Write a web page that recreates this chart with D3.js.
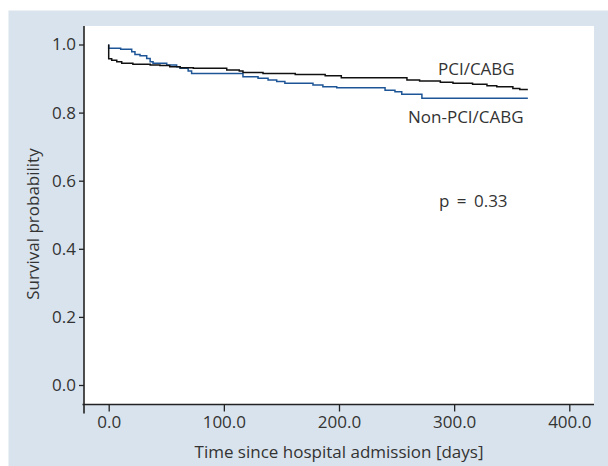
<!DOCTYPE html>
<html>
<head>
<meta charset="utf-8">
<script src="https://cdn.jsdelivr.net/npm/d3@7"></script>
<style>
  body { margin: 0; background: #fff; }
  svg text { font-family: "Open Sans", sans-serif; fill: #333; }
</style>
</head>
<body>
<div id="chart"></div>
<script>
// step points (days, survival)
var pciTime = [0, 0, 2.6, 7, 11.3, 21, 36, 44.5, 53, 62, 73.5, 102.5, 113.4, 116.6, 134, 162, 188, 202, 259, 270, 288, 299, 316, 328.5, 337, 351, 357, 364];
var pciSurv = [1.0, 0.958, 0.954, 0.949, 0.945, 0.942, 0.940, 0.938, 0.935, 0.932, 0.930, 0.925, 0.922, 0.918, 0.915, 0.912, 0.908, 0.902, 0.896, 0.893, 0.889, 0.886, 0.883, 0.879, 0.876, 0.871, 0.868, 0.868];

var nonTime = [0, 0, 10.4, 20, 22.8, 27.2, 33, 36, 38.5, 50.4, 59, 62, 69, 72, 116.6, 129.7, 138.4, 145.9, 153, 177.4, 186, 198, 240, 248.6, 254.5, 272, 364];
var nonSurv = [1.0, 0.989, 0.986, 0.979, 0.971, 0.967, 0.959, 0.949, 0.945, 0.940, 0.935, 0.930, 0.922, 0.915, 0.905, 0.901, 0.896, 0.891, 0.886, 0.881, 0.876, 0.873, 0.866, 0.861, 0.854, 0.842, 0.842];

var xTicks = [0, 100, 200, 300, 400];
var yTicks = [0, 0.2, 0.4, 0.6, 0.8, 1.0];
var labels = ["PCI/CABG", "Non-PCI/CABG"];
var pText = "p = 0.33";

var width = 608, height = 466;

var svg = d3.select("#chart").append("svg")
  .attr("width", width)
  .attr("height", height);

var x = d3.scaleLinear().domain([0, 400]).range([108.7, 569.3]);
var y = d3.scaleLinear().domain([0, 1]).range([385, 44.5]);

// plot box edges ("top" is taken by window.top)
var pLeft = 84, pRight = 594, pTop = 26, pBottom = 404.5;

// outer box
svg.append("rect")
  .attr("x", 8.5).attr("y", 10.5)
  .attr("width", width - 8.5).attr("height", height - 10.5)
  .attr("fill", "#d9e3ed");

// white plot area
svg.append("rect")
  .attr("x", pLeft).attr("y", pTop)
  .attr("width", pRight - pLeft).attr("height", pBottom - pTop)
  .attr("fill", "#fff");

//x axis
var xAxis = svg.append("g")
  .attr("transform", "translate(0," + pBottom + ")")
  .call(d3.axisBottom(x).tickValues(xTicks).tickFormat(d3.format(".1f")).tickSize(7).tickPadding(4));
xAxis.select(".domain").remove();
xAxis.selectAll("line").attr("stroke", "#222").attr("stroke-width", 1.3);
xAxis.selectAll("text").style("font-size", "17px").attr("fill", "#333");

//y axis
var yAxis = svg.append("g")
  .attr("transform", "translate(" + pLeft + ",0)")
  .call(d3.axisLeft(y).tickValues(yTicks).tickFormat(d3.format(".1f")).tickSize(5).tickPadding(3));
yAxis.select(".domain").remove();
yAxis.selectAll("line").attr("stroke", "#222").attr("stroke-width", 1.3);
yAxis.selectAll("text").style("font-size", "17px").attr("fill", "#333");

// axis lines, the y one runs a bit past the x axis
svg.append("line")
  .attr("x1", pLeft - 1.5).attr("x2", pRight)
  .attr("y1", pBottom).attr("y2", pBottom)
  .attr("stroke", "#222").attr("stroke-width", 1.6);
svg.append("line")
  .attr("x1", pLeft).attr("x2", pLeft)
  .attr("y1", pTop).attr("y2", pBottom + 9)
  .attr("stroke", "#222").attr("stroke-width", 1.6);

var line = d3.line()
  .curve(d3.curveStepAfter)
  .x(function(d) { return x(d[0]); })
  .y(function(d) { return y(d[1]); });

var nonPts = nonTime.map(function(t, i) { return [t, nonSurv[i]]; });
var pciPts = pciTime.map(function(t, i) { return [t, pciSurv[i]]; });

svg.append("path")
  .attr("d", line(nonPts))
  .attr("fill", "none")
  .attr("stroke", "#1d5597")
  .attr("stroke-width", 1.5);

svg.append("path")
  .attr("d", line(pciPts))
  .attr("fill", "none")
  .attr("stroke", "#111")
  .attr("stroke-width", 1.5);

// labels
svg.append("text").attr("x", 438).attr("y", 74.5)
  .style("font-size", "17px").text(labels[0]);
svg.append("text").attr("x", 408).attr("y", 122.5)
  .style("font-size", "17px").text(labels[1]);
svg.append("text").attr("x", 439).attr("y", 206.5)
  .style("font-size", "17px").style("word-spacing", "3px").text(pText);

// axis titles
svg.append("text")
  .attr("x", (196 + 482) / 2).attr("y", 458)
  .attr("text-anchor", "middle")
  .style("font-size", "17px")
  .text("Time since hospital admission [days]");

svg.append("text")
  .attr("transform", "translate(38.5,224) rotate(-90)")
  .attr("text-anchor", "middle")
  .style("font-size", "17px")
  .text("Survival probability");
</script>
</body>
</html>
